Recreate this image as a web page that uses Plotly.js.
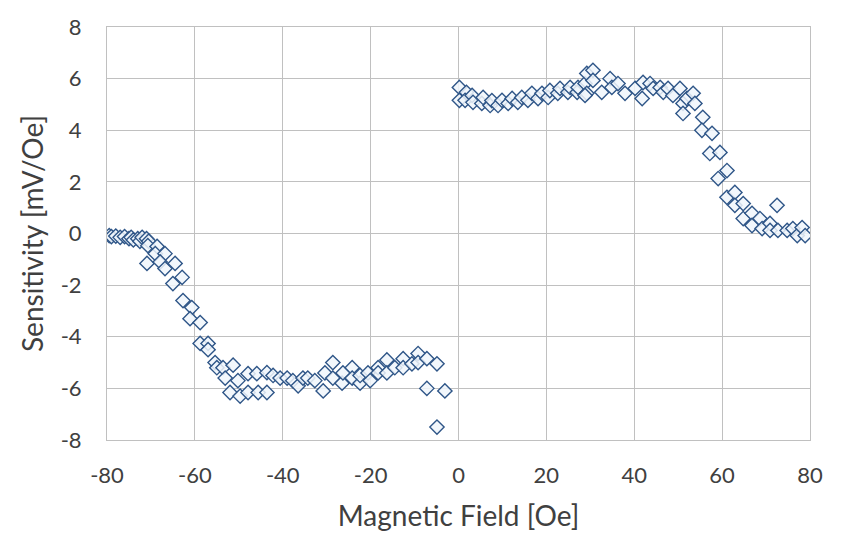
<!DOCTYPE html>
<html>
<head>
<meta charset="utf-8">
<script src="https://cdn.plot.ly/plotly-3.0.1.min.js"></script>
<style>
  html, body { margin: 0; padding: 0; background: #fff; }
  #chart { width: 862px; height: 542px; }
</style>
</head>
<body>
<div id="chart"></div>
<script>
// Negative field branch (Oe, mV/Oe)
const fieldNeg = [
  -79.5, -79, -78, -77, -76, -75, -74.5, -74, -73, -72.5, -72, -71, -70.5,
  -70.7, -68.6, -70.9, -69, -66.8, -67.9, -66.8, -64.5, -62.9, -65, -62.7, -60.7, -61.1, -58.8,
  -58.8, -57, -57, -55.4, -55, -53.6, -51.3, -53.1, -52, -50.2, -49.7, -47.9, -47.9, -45.6,
  -45.9, -43.6, -43.6, -42.2, -40.6, -39, -37.7, -36.5, -35.4, -34.3, -32.7, -30.8, -30.4,
  -28.6, -28.6, -26.5, -26.3, -24.2, -24.2, -22.4, -22.4, -20.6, -20.1, -18.3, -18.3, -16.3,
  -16.3, -14.5, -12.6, -12.6, -10.6, -9.2, -9.2, -7.2, -4.9, -7.2, -3.1, -4.9
];
const sensNeg = [
  -0.08, -0.12, -0.1, -0.15, -0.12, -0.2, -0.15, -0.25, -0.2, -0.3, -0.15, -0.2, -0.3,
  -0.47, -0.5, -1.16, -0.78, -0.78, -1.1, -1.36, -1.16, -1.7, -1.94, -2.6, -2.87, -3.3, -3.45,
  -4.26, -4.26, -4.5, -5.0, -5.2, -5.2, -5.1, -5.6, -6.16, -5.7, -6.3, -6.16, -5.43, -6.16,
  -5.43, -6.16, -5.39, -5.5, -5.6, -5.6, -5.7, -5.9, -5.6, -5.6, -5.7, -6.1, -5.4,
  -5.0, -5.6, -5.8, -5.4, -5.2, -5.6, -5.8, -5.5, -5.4, -5.7, -5.2, -5.4, -4.9,
  -5.4, -5.2, -4.85, -5.2, -5.05, -4.65, -5.0, -4.85, -5.05, -6.0, -6.1, -7.5
];

// Positive field branch (Oe, mV/Oe)
const fieldPos = [
  0.2, 0.2, 1.8, 1.5, 3.1, 3.3, 5.3, 5.6, 7.2, 7.6, 9, 9.9, 11.3, 12.2, 13.5, 14.4,
  15.8, 16.7, 18.1, 19, 20.4, 20.8, 22.6, 23.1, 24.9, 25.4, 27, 27.2, 28.8, 29.2, 29.2,
  30.6, 30.6, 28.8, 32.6, 34.5, 34.9, 36.3, 37.9, 40.2, 42, 41.8, 43.6, 44.3, 45.9, 46.6,
  47.7, 48.8, 50.4, 51.1, 52, 53.4, 53.8, 51.1, 55.6, 55.4, 57.7,
  57.2, 59.5, 59.1, 61.1, 61.1, 62.9, 62.9, 64.8, 64.8, 66.8, 66.8, 68.6, 69.1, 70.9,
  70.9, 72.5, 72.7, 74.8, 76.1, 77.1, 78.2, 78.9
];
const sensPos = [
  5.66, 5.16, 5.47, 5.16, 5.35, 5.08, 5.04, 5.27, 4.96, 5.15, 4.96, 5.16, 5.04, 5.23, 5.08, 5.27,
  5.16, 5.43, 5.23, 5.43, 5.27, 5.54, 5.43, 5.62, 5.47, 5.66, 5.47, 5.66, 5.81, 6.2, 5.43,
  6.32, 5.93, 5.35, 5.47, 6.0, 5.66, 5.81, 5.43, 5.62, 5.85, 5.23, 5.81, 5.62, 5.66, 5.47,
  5.62, 5.35, 5.62, 5.04, 5.23, 5.43, 5.04, 4.65, 4.5, 4.0, 3.88,
  3.1, 3.14, 2.13, 2.44, 1.4, 1.59, 1.09, 1.16, 0.58, 0.78, 0.31, 0.58, 0.19, 0.39,
  0.12, 1.09, 0.12, 0.12, 0.19, -0.08, 0.23, -0.08
];

const xTicks = [-80, -60, -40, -20, 0, 20, 40, 60, 80];
const yTicks = [-8, -6, -4, -2, 0, 2, 4, 6, 8];

const marker = {
  symbol: 'diamond',
  size: 11,
  color: 'rgba(240,246,252,0.85)',
  line: { color: '#2f5688', width: 1.4 }
};

const traces = [
  { x: fieldNeg, y: sensNeg, type: 'scatter', mode: 'markers', marker, name: 'neg' },
  { x: fieldPos, y: sensPos, type: 'scatter', mode: 'markers', marker, name: 'pos' }
];

const gridCol = '#c0c0c0';
const fontFam = 'Lato, "Open Sans", sans-serif';
const tickFont = { family: fontFam, size: 22, color: '#404040' };
const titleFont = { family: fontFam, size: 28, color: '#404040' };

const layout = {
  width: 862,
  height: 542,
  paper_bgcolor: '#fff',
  plot_bgcolor: '#fff',
  showlegend: false,
  margin: { l: 107, r: 52, t: 27, b: 102 },
  xaxis: {
    range: [-80, 80],
    tickvals: xTicks,
    ticktext: xTicks.map(String),
    tickfont: tickFont,
    showgrid: true, gridcolor: gridCol, gridwidth: 1.2,
    zeroline: true, zerolinecolor: gridCol, zerolinewidth: 1.2,
    showline: true, linecolor: gridCol, mirror: true,
    ticks: '', ticklabelstandoff: 16,
    title: { text: 'Magnetic Field [Oe]', font: titleFont, standoff: 18 }
  },
  yaxis: {
    range: [-8, 8],
    tickvals: yTicks,
    ticktext: yTicks.map(String),
    tickfont: tickFont,
    showgrid: true, gridcolor: gridCol, gridwidth: 1.2,
    zeroline: true, zerolinecolor: gridCol, zerolinewidth: 1.2,
    showline: true, linecolor: gridCol, mirror: true,
    ticks: '', ticklabelstandoff: 20,
    title: { text: 'Sensitivity [mV/Oe]', font: titleFont, standoff: 8 }
  }
};

Plotly.newPlot('chart', traces, layout, { displayModeBar: false, staticPlot: true });
</script>
</body>
</html>
